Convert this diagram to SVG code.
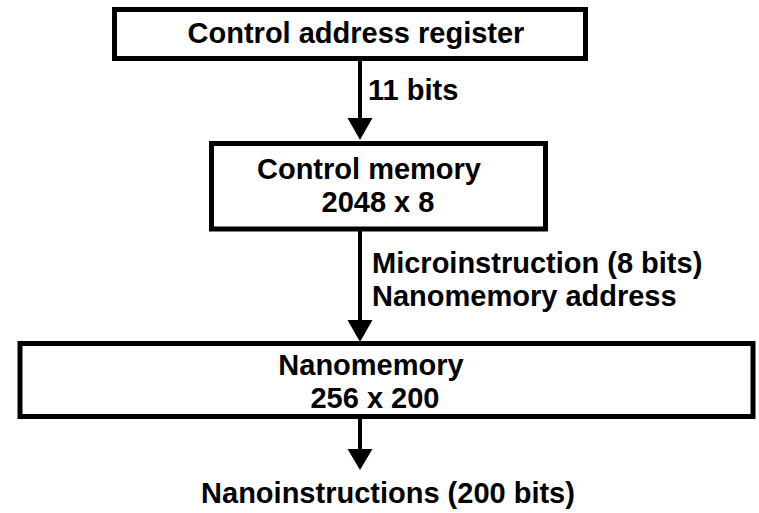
<svg xmlns="http://www.w3.org/2000/svg" width="759" height="513" viewBox="0 0 759 513">
  <defs>
    <style>
      .box { fill: #ffffff; stroke: #000000; stroke-width: 5; }
      .wire { stroke: #000000; stroke-width: 4; fill: none; }
      .head { fill: #000000; stroke: none; }
      text { font-family: "Liberation Sans", Arial, sans-serif; font-weight: bold; font-size: 29px; fill: #000000; }
      .mid { text-anchor: middle; }
    </style>
  </defs>
  <rect width="759" height="513" fill="#ffffff"/>

  <!-- connectors -->
  <g id="connectors">
    <line class="wire" x1="360" y1="59" x2="360" y2="120"/>
    <polygon class="head" points="347.5,118 372.5,118 360,140"/>
    <text x="368" y="100">11 bits</text>

    <line class="wire" x1="360" y1="230" x2="360" y2="322"/>
    <polygon class="head" points="347.5,320 372.5,320 360,342"/>
    <text x="372" y="273">Microinstruction (8 bits)</text>
    <text x="372" y="306">Nanomemory address</text>

    <line class="wire" x1="360" y1="418" x2="360" y2="451"/>
    <polygon class="head" points="347.5,449 372.5,449 360,470"/>
  </g>

  <!-- nodes -->
  <g id="control-address-register">
    <rect class="box" x="114.5" y="9.5" width="471" height="49"/>
    <text class="mid" x="356" y="43">Control address register</text>
  </g>

  <g id="control-memory">
    <rect class="box" x="211.5" y="143.5" width="334" height="85.5"/>
    <text class="mid" x="369" y="179">Control memory</text>
    <text class="mid" x="378" y="212">2048 x 8</text>
  </g>

  <g id="nanomemory">
    <rect class="box" x="20" y="343.5" width="733" height="73"/>
    <text class="mid" x="371" y="375">Nanomemory</text>
    <text class="mid" x="375" y="407.5">256 x 200</text>
  </g>

  <g id="nanoinstructions">
    <text class="mid" x="388" y="503">Nanoinstructions (200 bits)</text>
  </g>
</svg>
